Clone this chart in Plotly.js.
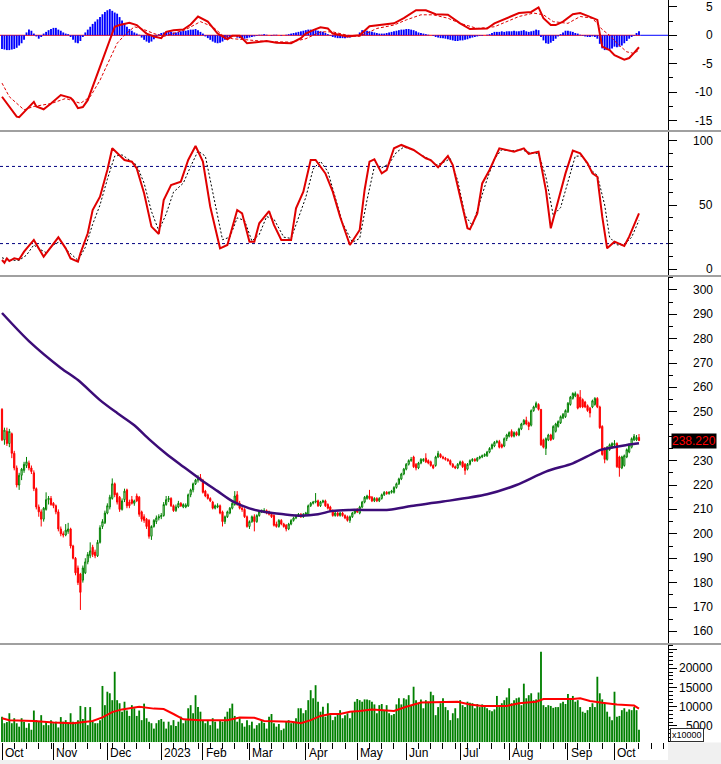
<!DOCTYPE html>
<html>
<head>
<meta charset="utf-8">
<script src="https://cdn.plot.ly/plotly-3.0.1.min.js"></script>
<style>html,body{margin:0;padding:0;background:#fff;}#chart{width:721px;height:764px;}</style>
</head>
<body>
<div id="chart"></div>
<script>
// ---------- price (OHLC), one entry per trading day ----------
const open = [251,238.5,242,237,241,233,227,220,224,226,228,229,227,225,218.5,211,209,206,210,214,214.5,212.5,211.5,209,202,200,199.5,201,202,195,190,186,183.5,181,184,188.5,191,194.5,192.5,191,196.5,203,204.5,208.5,211,214.5,220.5,216.5,215,210,214,218,213,214,212.5,215.5,215,209,207,206,205.5,199,203,205,206.5,207,207.5,212,214,214.5,211.5,209.5,211,212.5,211,211,211.5,216,218,220.5,222,223,222,217.5,216,214.5,213,210.5,211,211.5,209,205,207,208.5,210.5,212,216,212.5,210.5,210,207,203,205,207,205,207.5,209,209,209.5,209,208,207.5,204,203,205.5,204,203.5,202,204,205.5,206.5,207.5,208,207,208,208,211.5,212.5,213,213.5,211.5,213,213.5,212,211,209.5,207.5,208.5,207.5,208.5,207.5,207,205.5,207,208.5,209.5,208.5,211,213,214.5,215.5,215,213.5,214.5,213.5,214.5,216,217,216.5,217,217,219,220.5,222.5,224.5,226.5,228.5,230,231.5,228.5,227,229,230,231,230,229.5,228,228,231.5,232.5,231.5,231,230.5,230,228.5,227.5,227,228.5,229.5,228.5,226.5,228.5,230,230.5,230,231,231.5,232,232,233.5,235,236,237.5,237.8,236.5,236,239,240,242,240,241.5,240.5,243,245,246.5,245.5,244.5,250.5,252,253,251,238.5,235,238.5,240.5,239,242,244,245.5,247.5,248,250,253,255.5,256.5,257,256,255,254,252.5,251.5,252,253,255.5,252,244,235,230.5,234.5,235.5,236.5,237,231.5,227,228,231.5,233.5,235.5,238.5,238.5,239.5];
const high = [251.5,243.5,243.5,243,241.5,234,228,225,227,229.5,231.5,230,228,226,219,212,210,211,217,215.5,215.5,213,212,210,203,201,204,204.5,202.5,195.5,190.5,187,184,187,190,192.5,196.5,195.5,193.5,197.5,203.5,206,209.5,212.5,216,222.7,221,217,215.5,214.5,218.5,218.5,214,215.5,214,216.5,215.5,209.5,208,206.5,206,203.5,206,207.5,208,208.5,213,215.5,215.5,215,212,212,213.5,213,212.5,212.5,216.5,218.5,221,222.5,224,224.5,222.5,218,216.5,215,213.5,212,212.5,212,209.5,207.5,209.5,211,213,217.5,217.5,213.5,211.5,210.5,207.5,205.5,207.5,208,208,209.5,210,210.5,210,209.5,208.5,208,205,206,206,204.5,204,204.5,206,207,208,208.5,208.5,208.5,209,212,213,213.5,216.7,214,213.5,214,214,212.5,211.5,210,209,209,209,209,208,207.5,207.5,209,210,210.5,211.5,213.5,215.5,216,218,215.5,215,215,215,216.5,217.5,217.5,217.5,218,219.5,221,223,225,227,229,230.5,231.5,232,229,229.5,231,231,233,230.5,230,228.5,232,234,233,232,231.5,231,230.5,229,228,229,230,230,229,229,230.5,231,231,231.5,232,232.5,233,234,235.5,237,238,238.5,238.5,237,239.5,241,242,242.8,242,242,243.5,245.5,247,248,246,251,252.5,254.2,253.5,251,239,239.5,241,241,244.5,245.5,246.5,248.5,249.5,251,254,256.5,258,258.3,257.5,258.9,255.5,254.5,253,252,255,256,256,252.5,244.5,235.5,236,237,237.5,238.4,237.5,232,232,232.5,235,237,239.5,240.9,240.5,240.9];
const low = [238,236.5,236,235.5,231,226,219,218,222,225,227,226,224.5,217.5,210,207,203,205,209.5,212,211.5,210.5,208,201,199,198.5,199,200,194,189.5,183,179,168.8,180,183.5,187.5,190,190.5,190,190.5,196,202,204,208,210,214,215,212,209,209.5,213,210.5,210.5,212,211.5,213,207,205,204.5,202,198,197.5,202.5,204,205.5,206,207,211.5,213,211,209,209,210.5,211,210.5,210.5,211,215,217,220,221,221.5,216.5,215,214,213,210,210,210.5,208,203,204,206.5,208,210,211.5,211.5,210,209,206.5,202.5,202,204.5,201,204.5,207,208.5,208.5,208,207.5,206.5,203,202.5,202.5,203.5,202.5,201,201.5,203.5,205,206,207,206.5,206.5,207.5,207.5,211,212,212.5,211,211,212.5,211,210,209,207,207,207,207,207,206,205,204.5,206.5,208,208.5,208,210.5,212.5,214,214,213,213,213,213,214,215.5,216,216,216.5,216.5,218.5,220,222,224,226,228,229.5,227,226,226.5,228.5,229.5,229,228.5,227.5,226.5,227.5,231,231,230.5,230,229.5,228,227,226.5,226.5,228,227,224.2,226,228,229.5,229.5,229.5,230.5,231,231.5,231.5,233,234.5,235.5,237,235,235,235.5,238,239.5,239.5,239.5,240,240,242.5,244.5,244.5,242.5,244,250,251.5,250.5,236,235,232.3,238,238,238.5,241.5,243.5,245,247,247.5,249.5,252.5,255,256,251,251.5,251.5,251.5,250,247.7,251.5,252.5,251.5,243,232,228.9,230,234,235,236,227,223.4,226.5,227.5,231,233,235,238,238,238];
const close = [238.5,242.5,237,242,233,227,220,224,226.5,228.5,229.5,227,225.5,218.5,211,209,206,210.5,214,214.5,212,211.5,209,202,200,199.5,201.5,202,195,190,184,180,176,186,188.5,191.5,193,191.5,191,196.5,202.5,205,208.5,211.5,215,220.5,216,213,210,213.5,217.5,211.5,211.5,212.5,213.5,213.5,208,206,205.5,203,199,203,205.5,206.5,207,207.5,212,214,214.5,211.5,209.5,211,212.5,211.5,212,211.8,216,218,220.5,222,223,222,217,215.5,214.5,213.5,210.5,211.5,211.5,208.5,205,207,209,210.5,212.5,215.5,212,210.5,210,207,203,205,207,205,207.5,209,209.5,209.5,208.5,208,207,203.5,203,205.5,204,203,202,204,205.5,206.5,207.5,208,207,208,208.5,211.5,212.5,213,213.5,211.5,213,213.5,211.5,210.5,209.5,207.5,208.5,207.5,208.5,207.5,206.5,205.5,207,208.5,209.5,209,211,213,215,215.5,214.5,213.5,214.5,213.5,214.5,216,217,216.5,217,217.5,219,220.5,222.5,224.5,226.5,228.5,230,230.5,227.5,227,229,230.5,230.5,229.5,229,228,227,231.5,233,231.5,231,230.5,230,228.5,227.5,227,228.5,229.5,227.5,226,228.5,230,230.5,230,231,231.5,232,232.5,233.5,235,236.5,237.5,237.8,235.5,235.5,239,240.5,241.5,240,241.5,240.5,243,245,246.5,245,244,250.5,252,253.5,251,236.5,235.5,239,240.5,238.5,244,245,246,248,249,250.5,253.5,256,257.5,257.5,251.5,252,252,252,250.5,249.5,254.5,255.5,252,243.5,232.5,230.5,235.5,236.5,237,237,227.5,227,231.5,232,234.5,236.5,239,240,239.5,238.22];
// 200-day moving average, read at sample days
const maIdx = [0,11,24,31,40,47,54,60,67,74,81,88,94,101,108,115,122,129,135,142,158,167,180,198,210,222,233,240,244,255,260];
const maVal = [290.5,279,268,263,254.8,249.5,244.5,238.8,232.8,227.5,222.3,217.5,213.4,210.4,208.8,208,207.4,208,209.4,209.8,209.9,211.4,213.2,216.2,220,225.5,228.9,232.3,234.3,236.4,237.1];
// ---------- volume (x10000), one per day ----------
const volume = [7400,5700,6000,8300,5700,7000,5700,4800,7000,6100,4500,5700,4000,9000,6500,6100,7800,5200,6100,5200,6500,
5700,6100,4600,7300,6100,6500,5700,8300,6100,5700,6500,10200,6800,9900,5200,9900,6100,5700,5700,6500,15400,10400,
13900,13500,11700,19100,11700,10900,8700,11300,9000,7600,10400,9600,7600,9000,6500,10800,7000,6100,5700,4300,5700,6500,
6800,6100,4300,6100,5200,6500,5000,6100,7400,5700,6500,9600,10400,8300,13000,9900,
8700,6500,5700,6500,5200,7000,6100,4300,6500,6100,7400,8700,9600,10800,7600,6100,7000,5700,4800,6500,
5200,6100,4300,5200,5700,6500,5800,4300,7400,8100,5700,4800,5500,3900,4300,6100,6500,5700,6100,7000,9600,9600,8300,
9100,11700,14300,12200,15600,11300,8700,10000,7400,10900,7800,6500,7400,8300,9100,7000,7800,8300,7000,8700,11300,
12000,
11700,11300,11900,11900,11700,11300,10600,8300,10400,10700,9100,10400,8300,7800,8100,10600,12200,10600,12200,
11900,13000,10400,15200,11700,10900,11900,9600,11700,11300,13900,13000,7800,9900,10900,12200,9900,9100,6500,8300,9600,7000,
11700,10400,9900,11300,11000,10900,9600,10700,9900,10600,9900,9600,9100,8800,9300,12800,9900,10900,11700,12400,14800,
10900,11700,12200,12400,10400,16000,12200,13000,13500,11700,11900,13700,24300,10400,9900,10400,10200,9700,9900,9900,10900,11300,10700,
13300,12200,12800,11300,11700,9900,8700,8400,9100,9900,10900,9900,17800,13500,11900,10900,8700,7400,6500,
13900,7400,7600,9100,9600,8700,9300,9100,9900,9100,4000];
const volMaIdx = [0,3,13,21,29,37,41,45,49,54,56,62,66,70,74,81,92,97,103,107,118,122,126,130,134,138,142,146,151,160,165,171,180,186,191,196,206,211,218,221,233,236,240,245,251,258,260];
const volMaVal = [7000,6500,6300,5900,5700,6300,7200,8600,9300,9800,10000,9500,9400,8100,6700,6500,6500,7200,7100,6300,6100,5700,6500,7600,8100,8100,8700,8900,9300,8900,10000,11100,11300,11300,10600,10200,10200,10900,11300,12000,12000,12200,11500,11000,10600,10300,9500];
// ---------- MACD ----------
const macdHist = [-2.4,-2.5,-2.6,-2.6,-2.5,-2.4,-2.2,-1.8,-1.4,-0.8,
0.5,1.0,0.8,0.3,-0.2,-0.6,-0.3,
0.3,0.6,0.9,1.1,1.3,1.3,1.0,0.8,0.5,0.3,0.2,
-0.3,-0.8,-1.3,-1.4,-1.0,-0.3,
0.5,1.0,1.5,2.0,2.4,2.8,3.2,3.7,4.1,4.4,4.6,4.3,4.0,3.8,3.2,2.6,2.0,1.5,1.1,0.8,0.5,0.3,0.1,
-0.4,-0.8,-1.1,-1.3,-1.1,-0.7,-0.3,
0.2,0.4,0.5,0.6,0.6,0.6,0.5,0.5,0.6,0.7,0.8,0.8,0.9,1.0,1.0,1.1,0.9,0.6,0.3,
-0.2,-0.5,-0.8,-1.1,-1.3,-1.4,-1.3,-1.1,-0.8,-0.5,-0.3,-0.2,-0.1,
-0.4,-0.5,-0.6,-0.6,-0.5,-0.4,-0.3,-0.2,-0.1,
0.1,0.1,0.2,0.1,0.0,-0.1,0.1,0.1,0.0,-0.1,0.0,0.1,0.2,
0.3,0.4,0.5,0.6,0.7,0.8,0.9,1.0,1.0,0.9,0.9,0.8,0.7,0.6,0.4,0.2,
-0.1,-0.3,-0.4,-0.5,-0.5,-0.5,-0.5,-0.4,-0.4,-0.3,-0.2,-0.1,
0.5,0.9,0.9,0.8,0.7,0.6,0.5,0.4,
0.3,0.3,0.3,0.4,0.5,0.6,0.7,
0.8,0.9,1.0,1.0,1.1,1.1,1.0,0.9,0.7,0.5,0.4,0.3,
0.2,0.1,0.0,-0.1,
-0.3,-0.4,-0.5,-0.5,-0.6,-0.7,-0.8,
-0.9,-1.0,-1.0,-0.9,-0.9,-0.8,-0.7,-0.5,-0.4,-0.3,
-0.2,-0.1,-0.1,0.0,0.1,0.2,
0.4,0.6,0.6,0.6,0.7,0.6,0.7,0.7,0.7,0.8,0.7,0.7,0.8,0.9,0.7,0.6,0.7,0.8,1.0,0.9,
-0.3,-0.9,-1.4,-1.5,-1.3,-1.0,-0.6,-0.2,
0.2,0.5,0.8,0.8,0.7,0.6,0.4,
0.3,0.1,-0.1,-0.2,-0.3,-0.3,-0.2,
-0.3,-0.6,-1.5,-2.3,-2.6,-2.6,-2.5,-2.3,-2.0,-2.1,-2.0,-1.8,-1.4,-1.0,-0.6,
-0.3,-0.1,0.4,0.7];
const macdIdx = [0,2,6,7,10,13,14,17,20,24,28,29,31,33,35,37,40,43,45,46,48,52,55,59,62,65,67,70,74,77,80,84,88,92,94,97,100,108,112,118,122,124,127,130,133,135,141,146,150,154,160,164,169,173,177,182,187,191,198,201,206,211,216,219,221,224,226,229,233,236,239,243,244,245,248,250,254,256,258,260];
const macdVal = [-10.8,-12.0,-14.3,-14.4,-13.1,-11.7,-12.5,-13.0,-12.0,-10.5,-11.0,-11.4,-12.8,-12.6,-11.4,-9.0,-5.5,-2.0,0.4,1.5,1.8,2.2,1.8,0.3,-0.2,-0.5,0.6,0.9,1.0,1.9,3.3,2.4,0.3,-0.7,-0.1,-0.1,-1.4,-1.0,-1.3,-1.4,-0.5,0.3,0.9,1.4,1.2,0.3,-0.2,0.0,1.6,1.8,2.1,3.0,4.4,4.4,3.7,3.6,2.1,1.1,1.2,2.1,3.0,3.9,4.1,4.9,3.0,1.8,1.8,2.4,3.7,3.9,3.4,2.7,0.3,-2.0,-2.6,-3.5,-4.3,-4.0,-3.1,-2.1];
const sigIdx = [0,3,9,13,20,26,32,36,40,44,47,50,54,58,62,66,70,75,81,86,90,94,100,108,118,124,130,135,141,146,153,160,165,171,176,182,187,194,201,206,211,217,221,225,231,236,241,245,248,251,255,258,260];
const sigVal = [-8.4,-10.8,-13.1,-12.5,-12.0,-11.1,-11.95,-10.8,-7.9,-4.3,-1.4,0.0,1.5,1.0,0.3,-0.2,0.3,1.0,2.4,1.5,0.0,-0.6,-0.8,-1.1,-1.2,-0.6,0.6,0.6,0.0,-0.2,1.2,1.8,2.7,3.6,3.6,3.0,2.1,1.2,1.5,2.4,3.3,3.9,3.6,2.4,2.1,3.3,3.0,1.0,0.0,-1.4,-2.9,-3.2,-2.6];
// ---------- Stochastic ----------
const kIdx = [0,1,2,3,5,7,9,13,17,20,23,26,28,31,32,35,37,40,43,45,47,50,53,55,58,61,64,66,69,73,76,79,82,85,89,92,96,98,101,103,105,109,111,114,118,120,123,126,128,132,135,138,142,146,148,150,152,155,157,160,163,166,168,171,173,175,178,182,184,187,190,191,194,196,199,203,206,209,213,215,219,222,224,227,230,233,236,239,241,243,245,247,250,254,256,260];
const kVal = [7.2,5.1,8.5,6.4,8.5,7.7,13.7,22.8,9.8,17.6,24.9,16.3,8.5,5.9,12.4,28,46.1,56.5,77.2,94.1,90.2,85,83.7,78.5,59.1,33.2,27.5,53.9,65.6,68.2,85,95.9,83.7,48.7,16.3,18.9,46.1,43.5,21.5,21.5,35.8,45.3,34.5,22.8,22.8,47.4,60.4,85,85,74.6,60.4,40.9,18.9,30.6,61.7,83.7,85.5,74.6,77.2,94.1,96.7,94.1,92.8,88.9,86.3,85,79.3,88.1,81.1,56.5,31.9,31.1,43.5,66.8,77.2,94.1,92.8,91.5,94.1,89.7,91.5,61.7,31.9,53.9,74.6,92.3,90.2,82.4,74.6,72,40.9,16.3,21.5,18.1,25.4,43.5];
const dIdx = [0,3,7,10,13,15,18,21,24,27,31,34,37,40,43,46,49,52,55,58,61,64,67,70,74,77,80,83,86,90,93,96,99,102,105,108,111,115,118,121,124,127,130,133,136,139,143,146,149,152,155,158,161,164,168,171,174,177,180,183,186,189,192,195,198,201,204,208,212,215,219,222,225,228,231,234,237,240,243,246,248,251,254,257,260];
const dVal = [9,7,7,11,19,16,13,19,22,14,7,17,35,50,70,88,89,85,81,67,45,30,43,60,67,80,92,88,60,23,25,40,38,22,27,41,39,25,24,40,56,78,84,76,57,36,21,24,54,80,79,82,91,95,93,89,86,81,83,86,69,42,34,52,70,86,93,92,93,91,90,72,42,48,68,88,88,78,73,50,25,19,19,25,38];
// ---------- axis labels ----------
const monthIdx = [0,21,43,65,82,101,124,145,165,187,207,231,250];
const monthLabels = ['Oct','Nov','Dec','2023','Feb','Mar','Apr','May','Jun','Jul','Aug','Sep','Oct'];
const macdTicks = [5,0,-5,-10,-15];
const stochTicks = [100,50,0];
const priceTicks = [300,290,280,270,260,250,230,220,210,200,190,180,170,160]; // 240 is hidden behind the last-price box
const volTicks = [20000,15000,10000,5000];
const lastPrice = 238.22;
const stochLevels = [80,20];

const idx = close.map((_, i) => i);
const XR = [-0.816, 271.84];
const RED = '#e00000';

const data = [
  {type:'bar', x:idx, y:macdHist, yaxis:'y', marker:{color:'#0000ff', line:{width:0}}, width:0.75},
  {type:'scatter', mode:'lines', x:sigIdx, y:sigVal, yaxis:'y', line:{color:RED, width:1, dash:'3px,2px'}},
  {type:'scatter', mode:'lines', x:macdIdx, y:macdVal, yaxis:'y', line:{color:RED, width:2}},
  {type:'scatter', mode:'lines', x:dIdx, y:dVal, yaxis:'y2', line:{color:'#000000', width:1, dash:'2px,2px'}},
  {type:'scatter', mode:'lines', x:kIdx, y:kVal, yaxis:'y2', line:{color:RED, width:2}},
  {type:'candlestick', x:idx, open:open, high:high, low:low, close:close, yaxis:'y3',
   increasing:{line:{color:'#008000', width:1}, fillcolor:'#ffffff'},
   decreasing:{line:{color:'#ff0000', width:1}, fillcolor:'#ff0000'}, whiskerwidth:0},
  {type:'scatter', mode:'lines', x:maIdx, y:maVal, yaxis:'y3', line:{color:'#3c0c78', width:2.5, shape:'spline', smoothing:0.8}},
  {type:'bar', x:idx, y:volume, yaxis:'y4', marker:{color:'#008000', line:{width:0}}, width:0.75},
  {type:'scatter', mode:'lines', x:volMaIdx, y:volMaVal, yaxis:'y4', line:{color:'#ff0000', width:2}}
];

const ax = (domain, range, dtick, minor) => ({
  domain:domain, range:range, side:'right', anchor:'x', showgrid:false, zeroline:false,
  showline:true, linecolor:'#000', linewidth:1, ticks:'outside', ticklen:8, tickcolor:'#000',
  tickmode:'linear', tick0:0, dtick:dtick, showticklabels:false, fixedrange:true,
  minor:{ticks:'outside', ticklen:4, tickcolor:'#000', dtick:minor, tick0:0, showgrid:false}
});

const LX = 715/668;
const annFont = {family:'"Liberation Sans", Arial, sans-serif', size:12, color:'#000'};
const annotations = [];
macdTicks.forEach(v => annotations.push({xref:'paper', yref:'y', x:LX, y:v, text:String(v), showarrow:false, xanchor:'right', yanchor:'middle', font:annFont}));
stochTicks.forEach(v => annotations.push({xref:'paper', yref:'y2', x:LX, y:v, text:String(v), showarrow:false, xanchor:'right', yanchor:'middle', font:annFont}));
priceTicks.forEach(v => annotations.push({xref:'paper', yref:'y3', x:LX, y:v, text:String(v), showarrow:false, xanchor:'right', yanchor:'middle', font:annFont}));
volTicks.forEach(v => annotations.push({xref:'paper', yref:'y4', x:LX, y:v, text:String(v), showarrow:false, xanchor:'right', yanchor:'middle', font:annFont}));
monthIdx.forEach((m, k) => annotations.push({xref:'x', yref:'paper', x:m, y:-11/742, text:monthLabels[k], showarrow:false, xanchor:'left', yanchor:'middle', xshift:1, font:annFont}));
annotations.push({xref:'paper', yref:'y3', x:671/668, y:lastPrice, text:lastPrice.toFixed(3), showarrow:false, xanchor:'left', yanchor:'middle', bgcolor:'#000000', borderpad:0, font:{family:'"Liberation Sans", Arial, sans-serif', size:12, color:'#ff0000'}});
annotations.push({xref:'paper', yref:'paper', x:670/668, y:7/742, text:'x10000', showarrow:false, xanchor:'left', yanchor:'middle', bgcolor:'#ffffff', bordercolor:'#303030', borderwidth:1, borderpad:1, font:{family:'"Liberation Sans", Arial, sans-serif', size:9, color:'#000'}});

const py = px => (742 - px)/742;
const shapes = [
  {type:'line', xref:'x', yref:'y', x0:XR[0], x1:260.5, y0:0, y1:0, line:{color:'#ff0000', width:1}, layer:'below'},
  {type:'line', xref:'x', yref:'y', x0:260.5, x1:XR[1], y0:0, y1:0, line:{color:'#0000ff', width:1}, layer:'below'},
  ...stochLevels.map(l => ({type:'line', xref:'x', yref:'y2', x0:XR[0], x1:XR[1], y0:l, y1:l, line:{color:'#000080', width:1, dash:'3px,3px'}, layer:'below'})),
  {type:'line', xref:'paper', yref:'paper', x0:0, x1:721/668, y0:py(131), y1:py(131), line:{color:'#a0a0a0', width:2}},
  {type:'line', xref:'paper', yref:'paper', x0:0, x1:721/668, y0:py(276), y1:py(276), line:{color:'#a0a0a0', width:2}},
  {type:'line', xref:'paper', yref:'paper', x0:0, x1:721/668, y0:py(644), y1:py(644), line:{color:'#a0a0a0', width:2}},
  {type:'rect', xref:'paper', yref:'paper', x0:1, x1:721/668, y0:py(742.5), y1:py(764), fillcolor:'#f0f0f0', line:{width:0}},
  {type:'rect', xref:'paper', yref:'paper', x0:0, x1:721/668, y0:py(760), y1:py(764), fillcolor:'#f0f0f0', line:{width:0}}
];

const layout = {
  width:721, height:764,
  margin:{l:0, r:53, t:0, b:22, pad:0},
  paper_bgcolor:'#ffffff', plot_bgcolor:'#ffffff',
  showlegend:false, hovermode:false, dragmode:false, barmode:'overlay',
  font:annFont,
  xaxis:{range:XR, anchor:'y4', showgrid:false, zeroline:false, showline:false, tickmode:'array', tickvals:monthIdx,
         showticklabels:false, ticks:'outside', ticklen:18, tickcolor:'#000', tickwidth:1, fixedrange:true,
         rangeslider:{visible:false},
         minor:{ticks:'outside', ticklen:6, tickcolor:'#000', tickmode:'linear', tick0:0, dtick:5, showgrid:false}},
  yaxis: ax([py(130), 1], [-16.64, 6.2], 5, 2.5),
  yaxis2: ax([py(275), py(132)], [-4.43, 106.77], 50, 10),
  yaxis3: ax([py(643), py(277)], [155.25, 305.25], 10, 5),
  yaxis4: ax([0, py(645)], [807, 26068], 5000, 1000),
  shapes:shapes,
  annotations:annotations
};

Plotly.newPlot('chart', data, layout, {staticPlot:true, displayModeBar:false});
</script>
</body>
</html>
